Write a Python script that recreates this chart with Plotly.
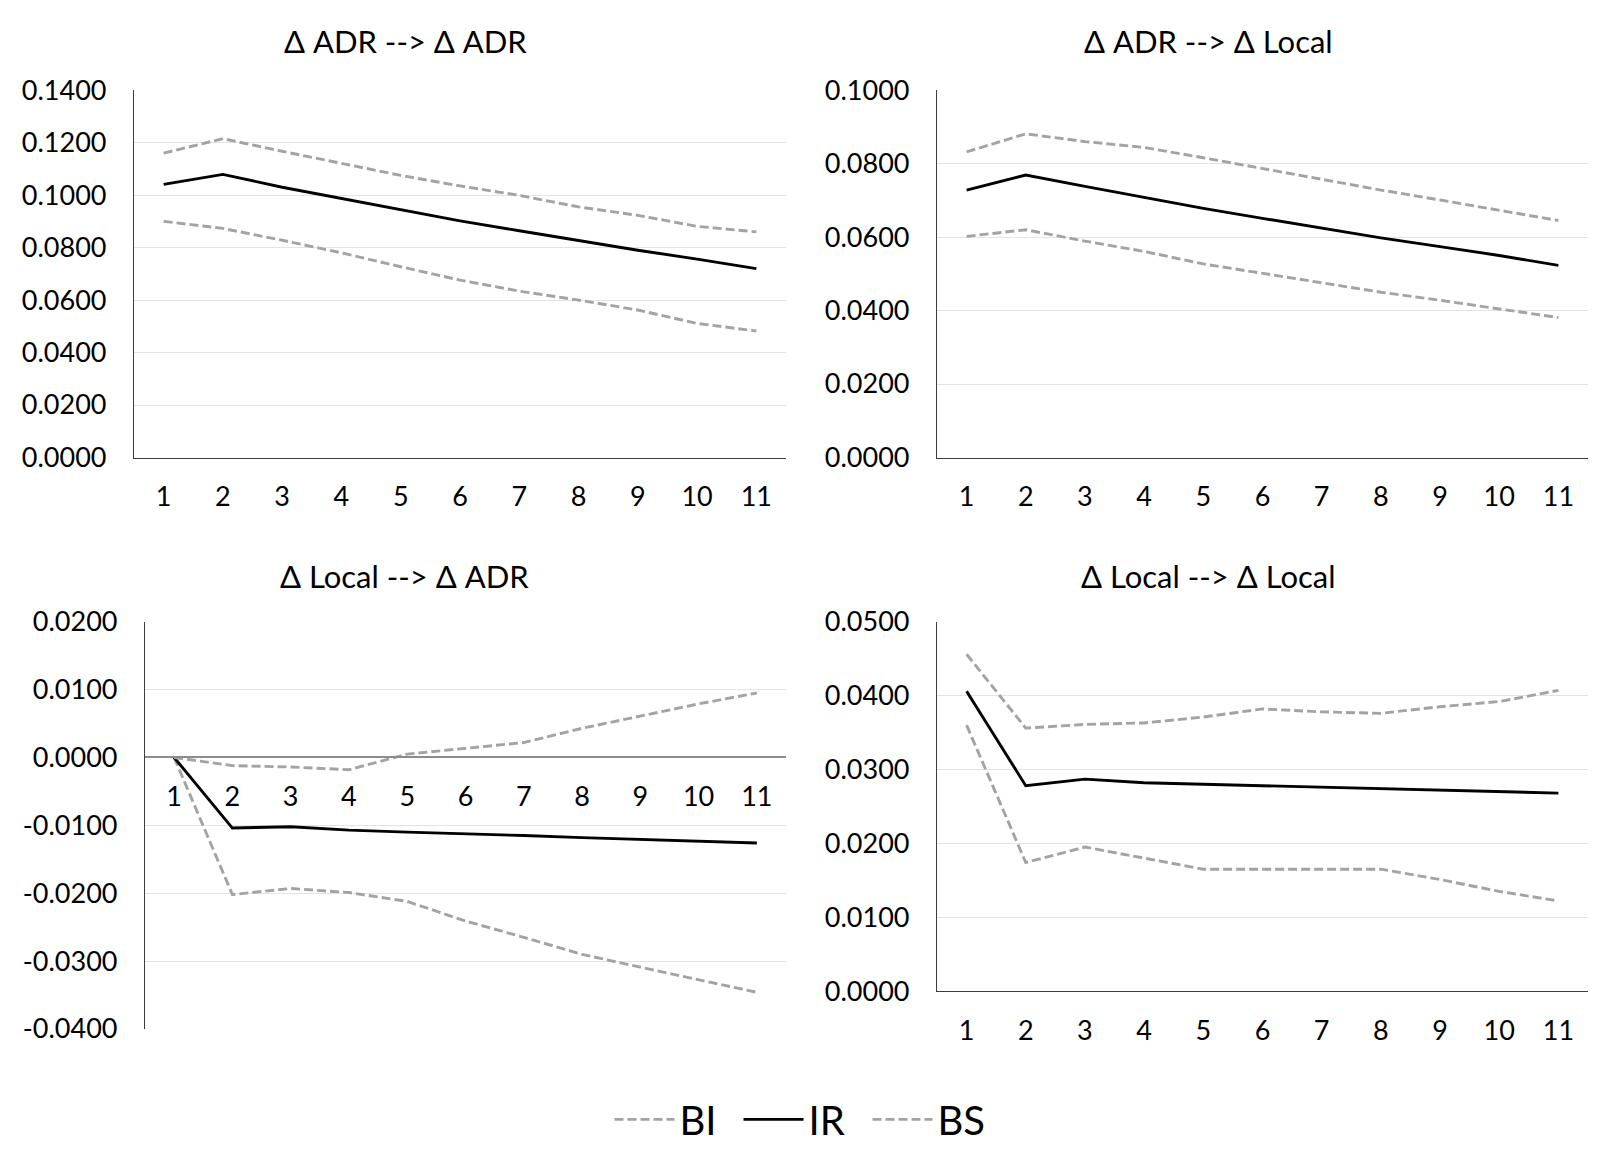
import plotly.graph_objects as go

periods = ["1", "2", "3", "4", "5", "6", "7", "8", "9", "10", "11"]

titles = ["Δ ADR --> Δ ADR", "Δ ADR --> Δ Local", "Δ Local --> Δ ADR", "Δ Local --> Δ Local"]

# Panel 1: ΔADR -> ΔADR
p1_bi = [0.0900, 0.0873, 0.0828, 0.0780, 0.0727, 0.0676, 0.0634, 0.0600, 0.0562, 0.0511, 0.0482]
p1_ir = [0.1041, 0.1079, 0.1030, 0.0988, 0.0944, 0.0902, 0.0864, 0.0826, 0.0790, 0.0756, 0.0720]
p1_bs = [0.1160, 0.1215, 0.1167, 0.1120, 0.1075, 0.1035, 0.0999, 0.0955, 0.0923, 0.0881, 0.0860]

# Panel 2: ΔADR -> ΔLocal
p2_bi = [0.0602, 0.0620, 0.0589, 0.0561, 0.0527, 0.0502, 0.0476, 0.0450, 0.0428, 0.0405, 0.0381]
p2_ir = [0.0728, 0.0769, 0.0738, 0.0708, 0.0678, 0.0651, 0.0624, 0.0598, 0.0574, 0.0550, 0.0523]
p2_bs = [0.0832, 0.0881, 0.0860, 0.0844, 0.0816, 0.0787, 0.0756, 0.0728, 0.0701, 0.0674, 0.0645]

# Panel 3: ΔLocal -> ΔADR
p3_bi = [0.0000, -0.0202, -0.0193, -0.0199, -0.0212, -0.0241, -0.0265, -0.0290, -0.0309, -0.0327, -0.0346]
p3_ir = [0.0000, -0.0104, -0.0102, -0.0107, -0.0110, -0.0112, -0.0115, -0.0118, -0.0121, -0.0124, -0.0126]
p3_bs = [0.0000, -0.0012, -0.0014, -0.0018, 0.0005, 0.0013, 0.0022, 0.0043, 0.0061, 0.0079, 0.0095]

# Panel 4: ΔLocal -> ΔLocal
p4_bi = [0.0360, 0.0174, 0.0195, 0.0180, 0.0165, 0.0165, 0.0165, 0.0165, 0.0151, 0.0135, 0.0122]
p4_ir = [0.0406, 0.0278, 0.0287, 0.0282, 0.0280, 0.0278, 0.0276, 0.0274, 0.0272, 0.0271, 0.0268]
p4_bs = [0.0456, 0.0356, 0.0361, 0.0363, 0.0371, 0.0382, 0.0378, 0.0376, 0.0385, 0.0392, 0.0407]

# y tick values / labels
y1_ticks = [0.0, 0.02, 0.04, 0.06, 0.08, 0.10, 0.12, 0.14]
y1_text = ["0.0000", "0.0200", "0.0400", "0.0600", "0.0800", "0.1000", "0.1200", "0.1400"]
y2_ticks = [0.0, 0.02, 0.04, 0.06, 0.08, 0.10]
y2_text = ["0.0000", "0.0200", "0.0400", "0.0600", "0.0800", "0.1000"]
y3_ticks = [-0.04, -0.03, -0.02, -0.01, 0.0, 0.01, 0.02]
y3_text = ["-0.0400", "-0.0300", "-0.0200", "-0.0100", "0.0000", "0.0100", "0.0200"]
y4_ticks = [0.0, 0.01, 0.02, 0.03, 0.04, 0.05]
y4_text = ["0.0000", "0.0100", "0.0200", "0.0300", "0.0400", "0.0500"]

W, H = 1616, 1173
FONT = "Lato"
GRAY = "#A3A3A3"

def px_x(v):
    return v / W

def px_y(v):
    return 1 - v / H

panels = [
    (p1_bi, p1_ir, p1_bs, "x", "y"),
    (p2_bi, p2_ir, p2_bs, "x2", "y2"),
    (p3_bi, p3_ir, p3_bs, "x3", "y3"),
    (p4_bi, p4_ir, p4_bs, "x4", "y4"),
]

fig = go.Figure()
for i, (bi, ir, bs, xa, ya) in enumerate(panels):
    show = i == 0
    fig.add_trace(go.Scatter(x=periods, y=bi, name="BI", mode="lines", xaxis=xa, yaxis=ya,
                             line=dict(color=GRAY, width=2.9, dash="9px,4px"), showlegend=show,
                             legendrank=1))
    fig.add_trace(go.Scatter(x=periods, y=ir, name="IR", mode="lines", xaxis=xa, yaxis=ya,
                             line=dict(color="black", width=2.9), showlegend=show, legendrank=2))
    fig.add_trace(go.Scatter(x=periods, y=bs, name="BS", mode="lines", xaxis=xa, yaxis=ya,
                             line=dict(color=GRAY, width=2.9, dash="9px,4px"), showlegend=show,
                             legendrank=3))

tickfont = dict(family=FONT, size=27, color="black")
grid = "#E3E3E3"
axis_line = "#3C3C3C"

left_dom = [px_x(126), px_x(778)]
left_dom3 = [px_x(137), px_x(778)]
right_dom = [px_x(929), px_x(1580)]
top_dom = [px_y(444), px_y(66)]
bot_dom3 = [px_y(1032), px_y(613)]
bot_dom4 = [px_y(993), px_y(613)]

def xaxis(dom, anchor, **kw):
    d = dict(domain=dom, anchor=anchor, type="category", range=[-0.5, 10.5], showgrid=False,
             zeroline=False, showline=True, linecolor=axis_line, linewidth=1.2, ticks="outside",
             ticklen=15, tickcolor="rgba(0,0,0,0)", tickfont=tickfont, fixedrange=True)
    d.update(kw)
    return d

def yaxis(dom, anchor, rng, tv, tt, **kw):
    d = dict(domain=dom, anchor=anchor, range=rng, tickvals=tv, ticktext=tt, showgrid=True,
             gridcolor=grid, gridwidth=1.2, zeroline=False, showline=True, linecolor=axis_line,
             linewidth=1.2, ticks="outside", ticklen=21, tickcolor="rgba(0,0,0,0)",
             tickfont=tickfont, fixedrange=True)
    d.update(kw)
    return d

zero_pos = bot_dom3[0] + (0 - (-0.04)) / (0.02 - (-0.04)) * (bot_dom3[1] - bot_dom3[0])

fig.update_layout(
    width=W, height=H,
    margin=dict(l=0, r=0, t=0, b=0),
    paper_bgcolor="white", plot_bgcolor="white",
    font=dict(family=FONT, color="black"),
    xaxis=xaxis(left_dom, "y"),
    yaxis=yaxis(top_dom, "x", [0, 0.14], y1_ticks, y1_text),
    xaxis2=xaxis(right_dom, "y2"),
    yaxis2=yaxis(top_dom, "x2", [0, 0.10], y2_ticks, y2_text),
    xaxis3=xaxis(left_dom3, "free", position=zero_pos, linecolor="#8C8C8C", linewidth=2.2),
    yaxis3=yaxis(bot_dom3, "x3", [-0.04, 0.02], y3_ticks, y3_text),
    xaxis4=xaxis(right_dom, "y4"),
    yaxis4=yaxis(bot_dom4, "x4", [0, 0.05], y4_ticks, y4_text),
    legend=dict(orientation="h", x=px_x(795), y=px_y(1125), xanchor="center", yanchor="middle",
                font=dict(family=FONT, size=40, color="black"), itemwidth=60,
                entrywidth=54, entrywidthmode="pixels",
                bgcolor="rgba(0,0,0,0)", traceorder="normal"),
    showlegend=True,
)

title_pos = [(397, 15), (1200, 15), (396, 566), (1200, 566)]
for t, (cx, cy) in zip(titles, title_pos):
    fig.add_annotation(text=t, x=px_x(cx), y=px_y(cy), xref="paper", yref="paper",
                       xanchor="center", yanchor="middle", showarrow=False,
                       font=dict(family=FONT, size=31, color="black"))

fig.write_html("out.html")
